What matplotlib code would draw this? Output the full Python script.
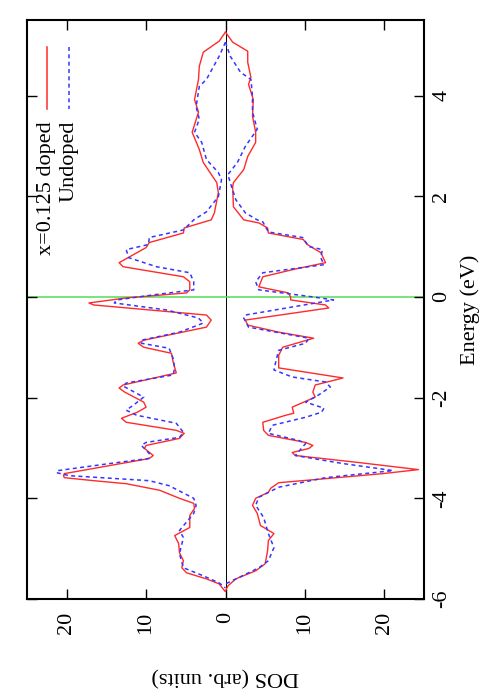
import matplotlib
matplotlib.use("Agg")
import matplotlib.pyplot as plt
from matplotlib.lines import Line2D
import numpy as np

# ---------------- data ----------------
# Left half: doped (red) spin channel 1
doped_left_E = [5.26, 5.08, 4.86, 4.58, 4.32, 3.92, 3.67, 3.27, 2.93, 2.67, 2.27, 2.07, 1.67, 1.53,
                1.37, 1.27, 1.08, 0.98, 0.68, 0.60, 0.40, 0.30, 0.14, 0.08, -0.02, -0.12, -0.16,
                -0.36, -0.46, -0.60, -0.86, -0.92, -1.00, -1.12, -1.29, -1.51, -1.75, -1.81, -1.89,
                -2.09, -2.19, -2.29, -2.41, -2.49, -2.65, -2.71, -2.81, -2.95, -3.01, -3.15, -3.21,
                -3.35, -3.51, -3.55, -3.59, -3.65, -3.71, -3.84, -4.00, -4.10, -4.20, -4.34, -4.58,
                -4.74, -4.90, -5.08, -5.24, -5.38, -5.48, -5.60, -5.70, -5.84]
doped_left_D = [0.0, 0.8, 2.8, 3.3, 3.4, 3.9, 3.4, 4.2, 3.3, 2.8, 1.1, 0.9, 1.4, 1.8,
                5.2, 5.3, 9.6, 10.0, 13.4, 12.9, 5.3, 4.5, 4.5, 4.9, 12.5, 17.2, 16.6,
                2.4, 1.8, 2.4, 10.3, 11.0, 10.3, 6.8, 6.6, 6.2, 12.9, 13.4, 12.7,
                10.3, 10.0, 11.1, 13.1, 12.5, 6.2, 5.2, 5.8, 10.0, 10.2, 9.1, 9.6,
                14.6, 20.3, 20.4, 20.3, 16.6, 12.5, 8.3, 5.8, 4.0, 3.9, 4.5, 4.5,
                6.4, 5.9, 5.8, 5.3, 5.5, 4.9, 2.4, 0.8, 0.1]

# Left half: undoped (blue)
undoped_left_E = [5.06, 4.78, 4.32, 4.18, 3.78, 3.53, 3.27, 3.07, 2.73, 2.47, 2.33, 1.99, 1.69, 1.53,
                  1.33, 1.18, 1.04, 0.94, 0.78, 0.60, 0.48, 0.30, 0.14, 0.04, -0.06, -0.12, -0.26,
                  -0.42, -0.52, -0.70, -0.86, -0.92, -1.02, -1.22, -1.41, -1.55, -1.71, -1.77, -1.99,
                  -2.15, -2.25, -2.35, -2.51, -2.69, -2.79, -2.89, -2.95, -3.11, -3.21, -3.31, -3.45,
                  -3.49, -3.55, -3.65, -3.75, -4.00, -4.14, -4.30, -4.64, -4.78, -5.10, -5.38, -5.54,
                  -5.68, -5.78]
undoped_left_D = [0.0, 0.8, 2.4, 3.3, 3.7, 3.3, 3.9, 3.0, 2.4, 0.9, 0.5, 0.9, 2.4, 4.0,
                  5.3, 9.6, 9.7, 12.5, 12.2, 8.7, 4.5, 4.0, 4.0, 9.1, 13.7, 14.0, 7.4,
                  3.4, 2.8, 5.8, 10.6, 10.6, 7.1, 6.6, 6.4, 6.6, 12.5, 12.9, 10.3,
                  11.6, 12.5, 11.2, 6.2, 5.3, 5.8, 10.0, 10.6, 9.6, 9.7, 14.6, 21.1,
                  21.3, 19.7, 9.6, 7.1, 4.0, 3.7, 4.0, 5.8, 5.3, 5.8, 5.3, 2.8,
                  0.8, 0.0]

# Right half: doped (red) spin channel 2
doped_right_E = [5.26, 5.06, 4.88, 4.66, 4.36, 4.22, 3.92, 3.59, 3.27, 3.07, 2.79, 2.53, 2.27, 2.19,
                 1.79, 1.53, 1.47, 1.37, 1.27, 1.14, 1.04, 0.88, 0.68, 0.54, 0.40, 0.20, 0.08, 0.00,
                 -0.06, -0.16, -0.22, -0.46, -0.56, -0.70, -0.82, -1.00, -1.16, -1.41, -1.61, -1.75,
                 -1.89, -1.99, -2.19, -2.31, -2.35, -2.49, -2.65, -2.75, -2.89, -2.95, -3.01, -3.09,
                 -3.15, -3.29, -3.43, -3.51, -3.61, -3.69, -3.80, -3.88, -4.00, -4.14, -4.30, -4.54,
                 -4.70, -4.84, -5.04, -5.30, -5.44, -5.60, -5.74, -5.84]
doped_right_D = [0.0, 0.9, 2.8, 2.8, 3.2, 2.9, 3.5, 3.4, 3.8, 3.8, 2.8, 2.3, 1.0, 0.9,
                 1.0, 2.3, 4.2, 5.3, 5.4, 9.8, 10.3, 12.0, 12.6, 8.4, 4.7, 4.2, 7.9, 8.2,
                 8.2, 12.6, 13.0, 2.5, 2.8, 6.7, 11.1, 7.2, 6.7, 6.7, 14.8, 11.3,
                 11.0, 11.3, 8.4, 8.6, 7.6, 4.7, 4.8, 5.4, 10.1, 11.0, 10.5, 8.4,
                 8.8, 16.8, 24.3, 19.8, 12.6, 6.7, 5.7, 5.4, 3.8, 3.4, 4.0, 4.4,
                 6.1, 5.4, 5.3, 5.0, 3.8, 1.3, 0.3, 0.0]

# Right half: undoped (blue)
undoped_right_E = [5.06, 4.78, 4.46, 4.32, 3.98, 3.67, 3.33, 2.99, 2.67, 2.43, 2.27, 1.93, 1.67, 1.53,
                   1.49, 1.29, 1.18, 1.00, 0.94, 0.78, 0.64, 0.48, 0.30, 0.14, 0.00, -0.06, -0.36,
                   -0.42, -0.60, -0.82, -0.92, -1.06, -1.31, -1.45, -1.59, -1.69, -1.79, -1.95, -2.09,
                   -2.21, -2.29, -2.39, -2.55, -2.71, -2.85, -2.91, -3.15, -3.31, -3.45, -3.59, -3.78,
                   -3.98, -4.14, -4.38, -4.70, -4.98, -5.24, -5.38, -5.58, -5.70]
undoped_right_D = [0.0, 0.6, 1.9, 3.2, 3.4, 3.4, 4.0, 2.5, 1.5, 0.3, 0.6, 1.3, 2.5, 4.0,
                   4.7, 5.4, 9.7, 10.5, 12.2, 12.0, 12.4, 4.7, 3.8, 4.2, 11.0, 13.6, 2.5,
                   2.3, 2.9, 10.5, 10.1, 6.7, 6.3, 6.1, 8.4, 12.6, 13.2, 11.7, 10.1,
                   12.4, 12.1, 10.1, 5.9, 5.4, 9.2, 10.1, 8.8, 14.8, 21.1, 12.6, 6.7,
                   4.2, 3.8, 4.8, 5.4, 6.1, 5.4, 4.2, 1.6, 0.0]

energy_ticks = [-6, -4, -2, 0, 2, 4]
dos_ticks = [-20, -10, 0, 10, 20]
dos_tick_labels = ["20", "10", "0", "10", "20"]
legend_labels = ["x=0.125 doped", "Undoped"]
xlabel_text = "DOS (arb. units)"
ylabel_text = "Energy (eV)"

# ---------------- figure ----------------
W, H = 491, 699
fig = plt.figure(figsize=(W / 100, H / 100), dpi=100)
plt.rcParams['font.family'] = ['Liberation Serif', 'DejaVu Serif']
FS = 16

L, R, T, B = 27, 424, 20, 599
ax = fig.add_axes([L / W, 1 - B / H, (R - L) / W, (B - T) / H])

red = '#ff2a2a'
blue = '#3535ff'
dash = (0, (2.6, 2.2))

ax.plot(-np.array(doped_left_D), doped_left_E, color=red, lw=1.0)
ax.plot(-np.array(undoped_left_D), undoped_left_E, color=blue, lw=1.1, linestyle=dash)
ax.plot(doped_right_D, doped_right_E, color=red, lw=1.0)
ax.plot(undoped_right_D, undoped_right_E, color=blue, lw=1.1, linestyle=dash)

ax.axvline(0, color='black', lw=0.7, zorder=0)
ax.axhline(0, color='#55dd55', lw=1.1, zorder=0)

ax.set_xlim(-25, 25)
ax.set_ylim(-6, 5.5)

ax.set_xticks(dos_ticks)
ax.set_xticklabels(dos_tick_labels, rotation=90, fontsize=FS)
ax.set_yticks(energy_ticks)
ax.set_yticklabels([str(v) for v in energy_ticks], rotation=90, fontsize=FS, va='center')
ax.tick_params(axis='both', direction='in', length=7, width=1.0,
               top=True, bottom=True, left=True, right=True,
               labelleft=False, labelright=True, labelbottom=True, labeltop=False)
ax.tick_params(axis='x', pad=9)
ax.tick_params(axis='y', pad=6)
for s in ax.spines.values():
    s.set_linewidth(1.5)

ax.set_xlabel(xlabel_text, rotation=180, fontsize=FS)
ax.xaxis.set_label_coords(0.5, (B - 676) / (B - T))
ax.xaxis.label.set_va('center')
ax.set_ylabel(ylabel_text, rotation=90, fontsize=FS)
ax.yaxis.set_label_position('right')
ax.yaxis.set_label_coords((470 - L) / (R - L), 0.5)
ax.yaxis.label.set_va('center')
ax.yaxis.label.set_ha('center')

# legend (rotated, drawn by hand)
for xpx, col, ls, lab in [(47, red, '-', legend_labels[0]), (69, blue, dash, legend_labels[1])]:
    fig.add_artist(Line2D([xpx / W, xpx / W], [1 - 47 / H, 1 - 109 / H],
                          transform=fig.transFigure, color=col, lw=1.1, linestyle=ls))
    fig.text(xpx / W, 1 - 121 / H, lab, rotation=90, ha='center', va='top', fontsize=FS)

fig.savefig('out.png', dpi=100)
